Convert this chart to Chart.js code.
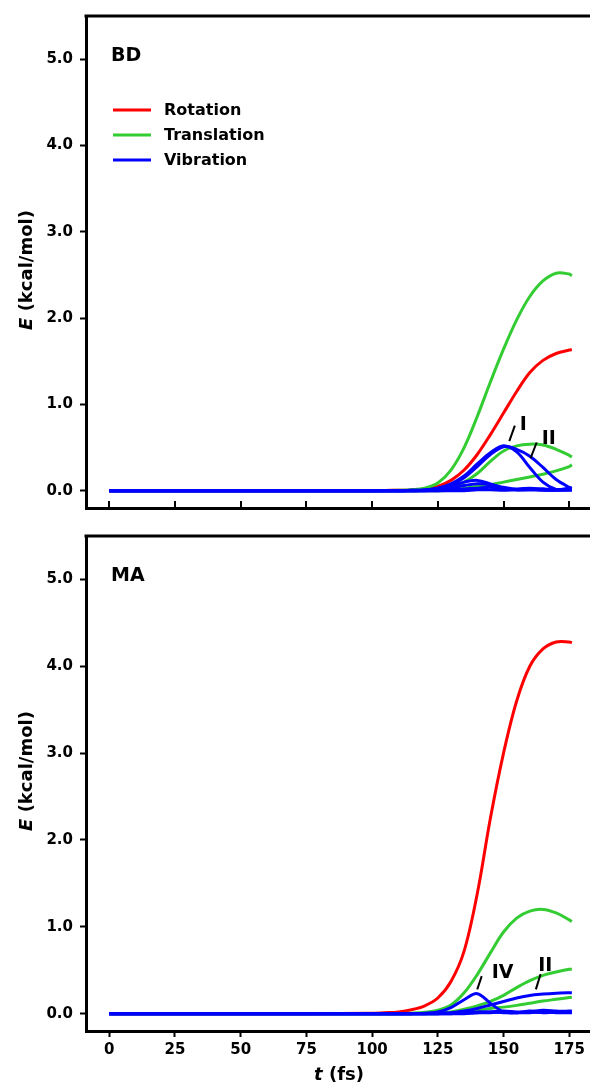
<!DOCTYPE html>
<html>
<head>
<meta charset="utf-8">
<script src="https://cdn.jsdelivr.net/npm/chart.js@4"></script>
<style>
  html, body { margin: 0; padding: 0; background: #fff; overflow: hidden; }
  body { width: 590px; height: 1084px; position: relative; }
  .box { position: absolute; left: 0; width: 590px; }
  #top { top: 0; height: 530px; }
  #bot { top: 520px; height: 564px; }
</style>
</head>
<body>
<div class="box" id="top"><canvas id="cBD"></canvas></div>
<div class="box" id="bot"><canvas id="cMA"></canvas></div>
<script>
// time axis (fs)
const T = [0, 25, 50, 75, 100, 105, 110, 115, 120, 125, 130, 135, 140, 145, 150, 155, 160, 165, 170, 175, 176];
const xTicks = [0, 25, 50, 75, 100, 125, 150, 175];
const yTicks = [0, 1, 2, 3, 4, 5];

// BD panel (kcal/mol)
const rotBD    = [0, 0, 0, 0, 0, 0.003, 0.006, 0.01, 0.02, 0.05, 0.12, 0.24, 0.42, 0.65, 0.90, 1.15, 1.37, 1.51, 1.59, 1.63, 1.635];
const transBD1 = [0, 0, 0, 0, 0, 0.003, 0.006, 0.012, 0.03, 0.09, 0.24, 0.50, 0.86, 1.26, 1.64, 1.98, 2.25, 2.43, 2.52, 2.51, 2.49];
const transBD2 = [0, 0, 0, 0, 0, 0, 0, 0, 0.005, 0.01, 0.04, 0.10, 0.20, 0.34, 0.46, 0.52, 0.54, 0.53, 0.48, 0.41, 0.39];
const transBD3 = [0, 0, 0, 0, 0, 0, 0, 0, 0, 0, 0.005, 0.03, 0.05, 0.07, 0.10, 0.13, 0.16, 0.19, 0.23, 0.28, 0.30];
const vibBD1   = [0, 0, 0, 0, 0, 0, 0, 0.005, 0.01, 0.03, 0.08, 0.17, 0.31, 0.44, 0.52, 0.45, 0.27, 0.10, 0.015, 0.005, 0.005];
const vibBD2   = [0, 0, 0, 0, 0, 0, 0, 0.005, 0.01, 0.03, 0.07, 0.15, 0.28, 0.42, 0.51, 0.48, 0.40, 0.27, 0.13, 0.04, 0.03];
const vibBD3   = [0, 0, 0, 0, 0, 0, 0, 0, 0.005, 0.01, 0.05, 0.10, 0.12, 0.08, 0.03, 0.01, 0.02, 0.01, 0.005, 0.01, 0.01];
const vibBD4   = [0, 0, 0, 0, 0, 0, 0, 0, 0, 0.01, 0.03, 0.06, 0.08, 0.07, 0.04, 0.02, 0.03, 0.02, 0.01, 0.02, 0.02];
const vibBD5   = [0, 0, 0, 0, 0, 0, 0, 0, 0, 0, 0.01, 0.02, 0.03, 0.04, 0.02, 0.01, 0.01, 0.02, 0.01, 0.03, 0.03];
const vibBD6   = [0, 0, 0, 0, 0, 0, 0, 0, 0, 0, 0, 0, 0.01, 0.01, 0.005, 0.01, 0.01, 0.005, 0.01, 0.02, 0.02];

// MA panel (kcal/mol)
const rotMA    = [0, 0, 0, 0, 0.004, 0.01, 0.02, 0.045, 0.09, 0.18, 0.37, 0.72, 1.38, 2.25, 3.00, 3.60, 4.00, 4.20, 4.28, 4.28, 4.27];
const transMA1 = [0, 0, 0, 0, 0, 0, 0, 0.005, 0.015, 0.04, 0.10, 0.24, 0.45, 0.70, 0.94, 1.10, 1.18, 1.20, 1.16, 1.08, 1.06];
const transMA2 = [0, 0, 0, 0, 0, 0, 0, 0, 0.005, 0.01, 0.02, 0.05, 0.09, 0.14, 0.21, 0.30, 0.38, 0.44, 0.48, 0.51, 0.51];
const transMA3 = [0, 0, 0, 0, 0, 0, 0, 0, 0, 0, 0.005, 0.02, 0.04, 0.06, 0.075, 0.095, 0.12, 0.145, 0.165, 0.185, 0.19];
const vibMA1   = [0, 0, 0, 0, 0, 0, 0, 0, 0.005, 0.02, 0.07, 0.16, 0.23, 0.12, 0.02, 0.01, 0.03, 0.02, 0.02, 0.02, 0.02];
const vibMA2   = [0, 0, 0, 0, 0, 0, 0, 0, 0, 0.005, 0.01, 0.03, 0.06, 0.10, 0.14, 0.18, 0.21, 0.225, 0.235, 0.24, 0.24];
const vibMA3   = [0, 0, 0, 0, 0, 0, 0, 0, 0, 0, 0.005, 0.01, 0.02, 0.02, 0.03, 0.02, 0.02, 0.04, 0.03, 0.02, 0.02];
const vibMA4   = [0, 0, 0, 0, 0, 0, 0, 0, 0, 0, 0, 0.01, 0.01, 0.02, 0.01, 0.01, 0.02, 0.01, 0.02, 0.03, 0.03];
const vibMA5   = [0, 0, 0, 0, 0, 0, 0, 0, 0, 0, 0, 0, 0.01, 0.01, 0.02, 0.01, 0.01, 0.02, 0.01, 0.01, 0.01];

const RED = '#ff0000', GREEN = '#33cc33', BLUE = '#0000ff';
const FONT = 'DejaVu Sans';

function pts(ys) {
  return T.map((t, i) => ({ x: t, y: ys[i] }));
}

function line(ys, color) {
  return {
    data: pts(ys),
    borderColor: color,
    borderWidth: 3,
    pointRadius: 0,
    fill: false,
    tension: 0.35
  };
}

// text, spines, legend, labels drawn on top of the chart
function decor(opt) {
  return {
    id: 'decor',
    afterDraw(chart) {
      const ctx = chart.ctx;
      const a = chart.chartArea;
      const xs = chart.scales.x, ys = chart.scales.y;
      ctx.save();
      ctx.strokeStyle = '#000';
      ctx.fillStyle = '#000';
      // top spine
      ctx.lineWidth = 3;
      ctx.beginPath();
      ctx.moveTo(a.left - 1.5, a.top);
      ctx.lineTo(a.right, a.top);
      ctx.stroke();
      // inward x ticks
      if (opt.inTicks) {
        ctx.lineWidth = 2;
        xTicks.forEach(v => {
          const px = Math.round(xs.getPixelForValue(v));
          ctx.beginPath();
          ctx.moveTo(px, a.bottom);
          ctx.lineTo(px, a.bottom - 7);
          ctx.stroke();
        });
      }
      // panel name
      ctx.font = 'bold 19px ' + FONT;
      ctx.textBaseline = 'alphabetic';
      ctx.textAlign = 'left';
      ctx.fillText(opt.name, a.left + 25, a.top + opt.nameDy);
      // legend
      if (opt.legend) {
        const items = [['Rotation', RED], ['Translation', GREEN], ['Vibration', BLUE]];
        ctx.font = 'bold 16px ' + FONT;
        ctx.textBaseline = 'middle';
        items.forEach((it, i) => {
          const y = 110 + i * 25;
          ctx.strokeStyle = it[1];
          ctx.lineWidth = 3;
          ctx.beginPath();
          ctx.moveTo(113, y);
          ctx.lineTo(151, y);
          ctx.stroke();
          ctx.fillStyle = '#000';
          ctx.fillText(it[0], 164, y + 1);
        });
      }
      // curve labels
      ctx.fillStyle = '#000';
      ctx.strokeStyle = '#000';
      ctx.font = 'bold 19px ' + FONT;
      ctx.textBaseline = 'alphabetic';
      opt.marks.forEach(m => {
        ctx.fillText(m.text, xs.getPixelForValue(m.t), ys.getPixelForValue(m.e));
        ctx.lineWidth = 2;
        ctx.beginPath();
        ctx.moveTo(xs.getPixelForValue(m.s[0]), ys.getPixelForValue(m.s[1]));
        ctx.lineTo(xs.getPixelForValue(m.s[2]), ys.getPixelForValue(m.s[3]));
        ctx.stroke();
      });
      // y title
      ctx.save();
      ctx.translate(27, opt.yTitleY);
      ctx.rotate(-Math.PI / 2);
      ctx.textBaseline = 'middle';
      ctx.textAlign = 'left';
      ctx.font = 'italic bold 18px ' + FONT;
      const w1 = ctx.measureText('E').width;
      ctx.font = 'bold 18px ' + FONT;
      const w2 = ctx.measureText(' (kcal/mol)').width;
      ctx.font = 'italic bold 18px ' + FONT;
      ctx.fillText('E', -(w1 + w2) / 2, 0);
      ctx.font = 'bold 18px ' + FONT;
      ctx.fillText(' (kcal/mol)', -(w1 + w2) / 2 + w1, 0);
      ctx.restore();
      // x title
      if (opt.xTitle) {
        ctx.textBaseline = 'alphabetic';
        ctx.textAlign = 'left';
        ctx.font = 'italic bold 18px ' + FONT;
        const a1 = ctx.measureText('t').width;
        ctx.font = 'bold 18px ' + FONT;
        const a2 = ctx.measureText(' (fs)').width;
        const cx = (a.left + a.right) / 2 + 1;
        ctx.font = 'italic bold 18px ' + FONT;
        ctx.fillText('t', cx - (a1 + a2) / 2, opt.xTitleY);
        ctx.font = 'bold 18px ' + FONT;
        ctx.fillText(' (fs)', cx - (a1 + a2) / 2 + a1, opt.xTitleY);
      }
      ctx.restore();
    }
  };
}

function makeChart(id, datasets, opt) {
  const tickFont = { family: FONT, size: 15, weight: 'bold' };
  return new Chart(document.getElementById(id), {
    type: 'line',
    data: { datasets: datasets },
    plugins: [decor(opt)],
    options: {
      responsive: true,
      maintainAspectRatio: false,
      animation: false,
      layout: { padding: { top: opt.padTop, right: 0, left: 0, bottom: 0 } },
      plugins: { legend: { display: false }, tooltip: { enabled: false } },
      scales: {
        x: {
          type: 'linear',
          min: -8.86,
          max: 182.9,
          afterBuildTicks: s => { s.ticks = xTicks.map(v => ({ value: v })); },
          afterFit: s => { s.height = opt.xHeight; },
          grid: { display: !opt.inTicks, drawOnChartArea: false, drawTicks: !opt.inTicks, tickLength: 6, tickWidth: 2, tickColor: '#000' },
          border: { display: true, width: 3, color: '#000' },
          ticks: { display: !opt.inTicks, font: tickFont, color: '#000', padding: 4, maxRotation: 0 }
        },
        y: {
          type: 'linear',
          min: -0.2,
          max: 5.5,
          afterBuildTicks: s => { s.ticks = yTicks.map(v => ({ value: v })); },
          afterFit: s => { s.width = 86; },
          grid: { drawOnChartArea: false, drawTicks: true, tickLength: 6, tickWidth: 2, tickColor: '#000' },
          border: { display: true, width: 3, color: '#000' },
          ticks: { font: tickFont, color: '#000', padding: 7, callback: v => v.toFixed(1) }
        }
      }
    }
  });
}

makeChart('cBD', [
  line(vibBD6, BLUE), line(vibBD5, BLUE), line(vibBD4, BLUE), line(vibBD3, BLUE),
  line(vibBD2, BLUE), line(vibBD1, BLUE),
  line(transBD3, GREEN), line(transBD2, GREEN), line(transBD1, GREEN),
  line(rotBD, RED)
], {
  name: 'BD', nameDy: 45, legend: true, inTicks: true,
  padTop: 12, xHeight: 22, yTitleY: 270,
  marks: [
    { text: 'I', t: 156.2, e: 0.70, s: [152.2, 0.574, 154.3, 0.754] },
    { text: 'II', t: 164.5, e: 0.544, s: [160.3, 0.378, 162.6, 0.559] }
  ]
});

makeChart('cMA', [
  line(vibMA5, BLUE), line(vibMA4, BLUE), line(vibMA3, BLUE),
  line(vibMA2, BLUE), line(vibMA1, BLUE),
  line(transMA3, GREEN), line(transMA2, GREEN), line(transMA1, GREEN),
  line(rotMA, RED)
], {
  name: 'MA', nameDy: 45, legend: false, inTicks: false, xTitle: true, xTitleY: 560,
  padTop: 16, xHeight: 53, yTitleY: 251,
  marks: [
    { text: 'IV', t: 145.5, e: 0.406, s: [140.0, 0.279, 141.7, 0.432] },
    { text: 'II', t: 163.2, e: 0.493, s: [162.3, 0.279, 164.1, 0.455] }
  ]
});
</script>
</body>
</html>
